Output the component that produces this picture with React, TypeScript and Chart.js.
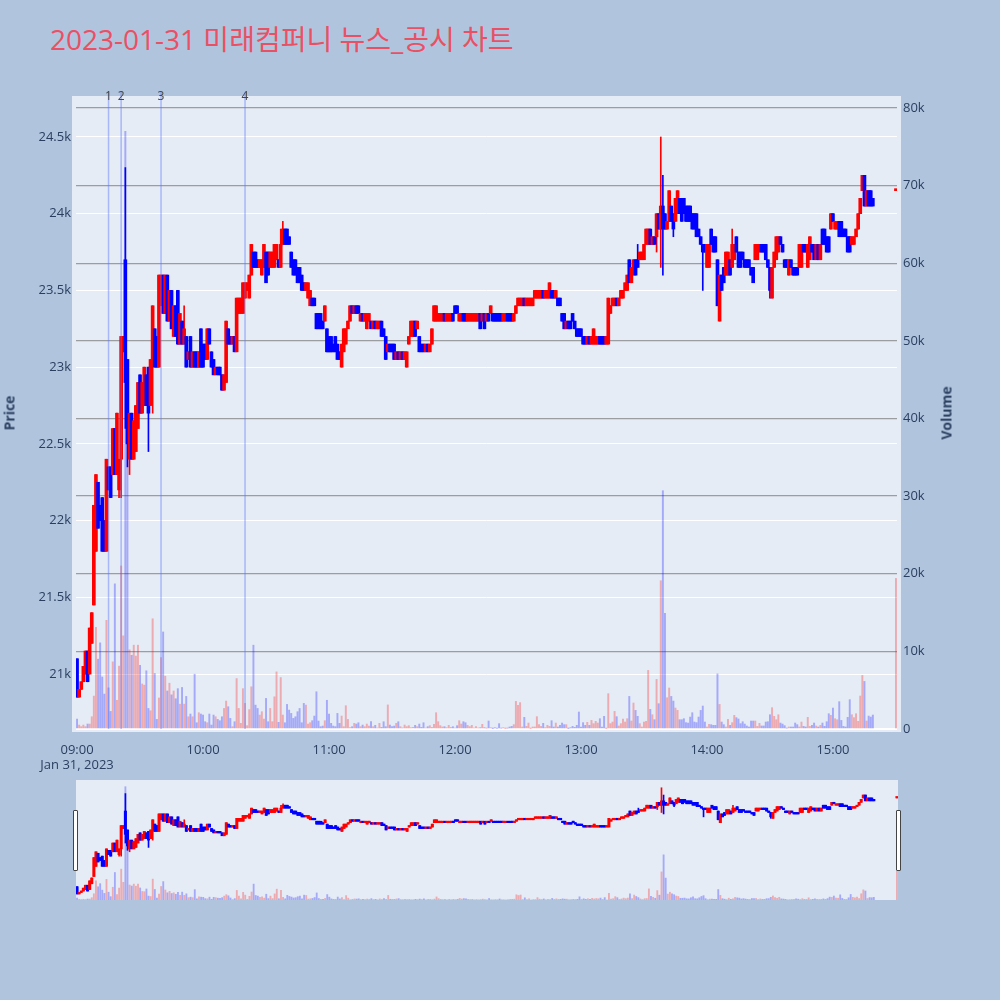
import React, { useEffect, useRef } from "react";
import { Chart, registerables, ChartConfiguration, Plugin } from "chart.js";

Chart.register(...registerables);

const titleText = "2023-01-31 미래컴퍼니 뉴스_공시 차트";
const sessionDate = "Jan 31, 2023";
const sessionStartHour = 9;

// tick positions
const priceTicks = [21000, 21500, 22000, 22500, 23000, 23500, 24000, 24500];
const volumeTicks = [0, 10000, 20000, 30000, 40000, 50000, 60000, 70000, 80000];
const hourTicks = [0, 60, 120, 180, 240, 300, 360]; // minutes after 09:00

// one candle per minute from 09:00 (index = minutes after the open)
const opens = [
  21100, 20850, 20900, 20950, 21000, 21150, 21000, 21200, 21450, 21800, // 09:00
  22250, 22100, 22150, 22000, 21800, 22350, 22350, 22300, 22600, 22300,
  22200, 22400, 23100, 23700, 23050, 22400, 22700, 22400, 22450, 22600,
  22950, 22700, 22750, 22950, 23000, 22750, 23050, 23250, 23200, 23000,
  23400, 23600, 23350, 23600, 23300, 23500, 23200, 23400, 23500, 23150,
  23300, 23150, 23200, 23050, 23200, 23000, 23100, 23100, 23000, 23250,
  23150, 23150, 23050, 23250, 23100, 23050, 22950, 23000, 23000, 22950, // 10:00
  22850, 22900, 23250, 23200, 23150, 23200, 23100, 23350, 23350, 23350,
  23450, 23500, 23450, 23600, 23750, 23750, 23700, 23650, 23600, 23650,
  23750, 23750, 23650, 23650, 23650, 23700, 23700, 23650, 23800, 23900,
  23900, 23850, 23750, 23700, 23700, 23650, 23650, 23600, 23550, 23500,
  23450, 23400, 23450, 23450, 23350, 23350, 23350, 23300, 23300, 23250,
  23200, 23200, 23150, 23200, 23150, 23100, 23000, 23100, 23150, 23250, // 11:00
  23300, 23400, 23350, 23400, 23400, 23300, 23350, 23300, 23250, 23300,
  23300, 23250, 23300, 23250, 23250, 23300, 23250, 23200, 23100, 23150,
  23150, 23150, 23050, 23100, 23050, 23100, 23050, 23000, 23150, 23200,
  23200, 23300, 23250, 23200, 23150, 23150, 23100, 23150, 23100, 23150,
  23300, 23300, 23300, 23300, 23300, 23350, 23300, 23300, 23300, 23350,
  23400, 23400, 23300, 23300, 23350, 23350, 23300, 23300, 23300, 23300, // 12:00
  23300, 23300, 23350, 23300, 23350, 23300, 23350, 23350, 23350, 23350,
  23350, 23350, 23350, 23300, 23300, 23350, 23350, 23350, 23300, 23350,
  23400, 23400, 23400, 23450, 23400, 23400, 23400, 23400, 23450, 23450,
  23450, 23450, 23500, 23450, 23450, 23450, 23500, 23500, 23450, 23450,
  23450, 23350, 23350, 23250, 23300, 23300, 23350, 23300, 23250, 23250,
  23250, 23200, 23200, 23150, 23200, 23150, 23150, 23150, 23150, 23200, // 13:00
  23200, 23200, 23150, 23150, 23350, 23400, 23400, 23450, 23400, 23450,
  23450, 23500, 23500, 23700, 23550, 23600, 23700, 23700, 23700, 23700,
  23700, 23800, 23800, 23900, 23800, 23850, 23850, 24000, 23900, 24050,
  24000, 23900, 23950, 24050, 24000, 23950, 24000, 24100, 24100, 24100,
  24050, 24050, 24050, 24000, 24000, 24000, 23900, 23850, 23800, 23800,
  23650, 23650, 23900, 23850, 23850, 23700, 23300, 23600, 23650, 23600, // 14:00
  23600, 23700, 23650, 23700, 23850, 23750, 23750, 23750, 23700, 23700,
  23700, 23650, 23650, 23700, 23700, 23750, 23800, 23800, 23800, 23700,
  23650, 23450, 23650, 23700, 23750, 23850, 23800, 23700, 23700, 23600,
  23700, 23650, 23650, 23650, 23650, 23650, 23800, 23800, 23650, 23700,
  23800, 23800, 23700, 23800, 23700, 23900, 23900, 23850, 23850, 23900,
  24000, 23900, 23900, 23950, 23950, 23900, 23900, 23850, 23850, 23800, // 15:00
  23800, 23850, 23900, 24000, 24150, 24250, 24050, 24150, 24150, 24100,
];

const closes = [
  20850, 20900, 20950, 21050, 21150, 20950, 21300, 21400, 22100, 22300, // 09:00
  21950, 22000, 21800, 21800, 22400, 22200, 22150, 22600, 22300, 22700,
  22400, 23200, 23200, 22900, 22500, 22700, 22400, 22650, 22750, 22900,
  22700, 22900, 23000, 22750, 22700, 23050, 23400, 23000, 23000, 23600,
  23600, 23350, 23600, 23300, 23500, 23250, 23400, 23200, 23150, 23350,
  23150, 23250, 23000, 23100, 23000, 23100, 23000, 23000, 23100, 23000,
  23000, 23050, 23250, 23150, 23000, 22950, 23000, 22950, 22950, 22850, // 10:00
  22950, 23300, 23150, 23150, 23200, 23100, 23450, 23450, 23450, 23550,
  23550, 23550, 23600, 23800, 23650, 23650, 23650, 23700, 23700, 23800,
  23550, 23600, 23750, 23750, 23800, 23800, 23650, 23800, 23900, 23800,
  23800, 23800, 23650, 23600, 23600, 23550, 23550, 23500, 23500, 23550,
  23550, 23500, 23400, 23400, 23250, 23250, 23250, 23250, 23400, 23100,
  23100, 23100, 23100, 23100, 23050, 23050, 23150, 23250, 23250, 23300, // 11:00
  23400, 23350, 23400, 23350, 23350, 23350, 23300, 23350, 23350, 23350,
  23250, 23300, 23250, 23300, 23300, 23200, 23200, 23050, 23150, 23100,
  23100, 23050, 23100, 23050, 23100, 23050, 23100, 23100, 23200, 23300,
  23300, 23200, 23300, 23100, 23100, 23100, 23150, 23100, 23150, 23250,
  23400, 23400, 23350, 23350, 23350, 23300, 23350, 23350, 23350, 23300,
  23350, 23350, 23350, 23350, 23300, 23300, 23350, 23350, 23350, 23350, // 12:00
  23350, 23350, 23250, 23350, 23250, 23350, 23300, 23400, 23300, 23300,
  23300, 23300, 23300, 23350, 23350, 23300, 23300, 23300, 23350, 23400,
  23450, 23450, 23450, 23400, 23450, 23450, 23450, 23450, 23500, 23500,
  23500, 23500, 23450, 23500, 23500, 23550, 23450, 23450, 23500, 23400,
  23400, 23300, 23250, 23300, 23250, 23250, 23300, 23250, 23200, 23200,
  23200, 23150, 23150, 23200, 23150, 23200, 23250, 23200, 23200, 23150, // 13:00
  23150, 23150, 23200, 23450, 23400, 23450, 23450, 23400, 23450, 23500,
  23500, 23550, 23600, 23550, 23650, 23700, 23600, 23650, 23750, 23750,
  23800, 23900, 23900, 23800, 23850, 23800, 24000, 23900, 24050, 23900,
  23900, 23950, 24150, 23950, 23900, 24100, 24150, 24000, 23950, 24000,
  23950, 23950, 23950, 23900, 23900, 23850, 23850, 23800, 23750, 23750,
  23800, 23800, 23800, 23750, 23750, 23400, 23600, 23500, 23550, 23750, // 14:00
  23750, 23600, 23800, 23800, 23750, 23650, 23650, 23700, 23650, 23650,
  23650, 23600, 23550, 23800, 23800, 23800, 23750, 23750, 23700, 23650,
  23500, 23650, 23750, 23850, 23850, 23800, 23750, 23650, 23650, 23700,
  23650, 23600, 23600, 23600, 23800, 23800, 23750, 23750, 23800, 23850,
  23750, 23700, 23800, 23700, 23800, 23800, 23800, 23750, 23750, 24000,
  23950, 23950, 23950, 23850, 23850, 23850, 23850, 23750, 23750, 23850, // 15:00
  23850, 23900, 24000, 24100, 24250, 24050, 24150, 24050, 24050, 24050,
];

const volumes = [
  1280, 510, 300, 510, 300, 640, 640, 1580, 4240, 13100, // 09:00
  9000, 11100, 6700, 4500, 14000, 5300, 2270, 8650, 18700, 3700,
  8100, 21000, 12000, 77000, 40000, 10200, 9500, 10800, 9400, 10800,
  8200, 5800, 5650, 7500, 2650, 2350, 14200, 7150, 1240, 4000,
  9200, 12500, 6800, 4900, 5900, 4400, 4900, 3900, 5200, 3200,
  5350, 3200, 4200, 1580, 1930, 1580, 7060, 810, 2100, 1930,
  1800, 940, 810, 1930, 510, 1800, 1580, 1240, 1070, 1580, // 10:00
  2650, 3600, 2870, 1370, 300, 940, 6500, 2650, 730, 5200,
  3300, 430, 2500, 5440, 10800, 3080, 2650, 1800, 2230, 1280,
  3940, 940, 2650, 940, 4150, 7360, 860, 6630, 1800, 810,
  3170, 2440, 2010, 1370, 1580, 2230, 2650, 810, 3300, 3080,
  640, 810, 1070, 1670, 4800, 1030, 300, 385, 1070, 3700,
  1930, 730, 385, 300, 2010, 730, 1670, 300, 3000, 1240, // 11:00
  170, 300, 730, 640, 810, 300, 510, 300, 640, 380,
  940, 300, 470, 130, 730, 210, 940, 300, 3100, 510,
  300, 380, 730, 940, 300, 130, 510, 300, 430, 170,
  210, 470, 300, 640, 210, 810, 130, 300, 430, 210,
  600, 2100, 940, 430, 260, 300, 170, 470, 210, 300,
  130, 430, 1070, 640, 940, 810, 470, 300, 470, 130, // 12:00
  300, 130, 170, 600, 170, 90, 1030, 170, 40, 170,
  90, 690, 90, 170, 40, 90, 260, 340, 560, 3560,
  3050, 3400, 260, 1500, 340, 770, 40, 260, 260, 1590,
  560, 340, 730, 170, 470, 340, 1070, 260, 770, 260,
  470, 770, 560, 560, 40, 170, 340, 210, 470, 2190,
  260, 820, 470, 860, 470, 1110, 690, 990, 770, 1330, // 13:00
  260, 1630, 40, 4550, 690, 900, 2270, 1590, 390, 690,
  1290, 900, 1330, 4200, 1030, 3350, 2400, 1630, 690, 260,
  900, 990, 7550, 2530, 1840, 1200, 6390, 3260, 19100, 30700,
  14900, 4030, 5280, 4200, 3600, 2700, 2400, 1200, 1200, 1330,
  820, 770, 1540, 2100, 900, 820, 1540, 2400, 2960, 900,
  260, 600, 560, 470, 470, 7100, 3170, 900, 560, 260, // 14:00
  1240, 470, 820, 1760, 1460, 1290, 690, 940, 640, 390,
  260, 1030, 1030, 1030, 340, 730, 390, 390, 900, 940,
  1840, 2750, 1630, 1200, 1840, 770, 640, 430, 90, 260,
  260, 260, 770, 560, 260, 900, 340, 260, 1500, 340,
  470, 770, 390, 260, 470, 770, 340, 940, 1970, 1760,
  2700, 1330, 1200, 3520, 1110, 340, 260, 1500, 3780, 1840, // 15:00
  1460, 1970, 990, 4250, 6900, 6130, 1030, 1670, 1540, 1800,
];

// [minute, low, high] for candles whose wick reaches past the body
const wicks: [number, number, number][] = [
  [20, 22150, 22400], [21, 22150, 23200], [23, 22600, 24300], [24, 22350, 23050],
  [25, 22300, 22700], [34, 22450, 23000], [36, 22700, 23400], [51, 23150, 23400],
  [97, 23650, 23900], [98, 23800, 23950], [267, 23650, 23800], [276, 23750, 24000],
  [278, 23650, 24500], [279, 23600, 24250], [284, 23850, 24000], [298, 23500, 23800],
  [312, 23650, 23900], [330, 23450, 23650], [374, 24150, 24250],
];

// closing auction print at 15:30
const closeMinute = 390;
const closeOpen = 24150;
const closeClose = 24150;
const closeVolume = 19400;

// news / disclosure markers
const newsMinutes = [15, 21, 40, 80];
const newsLabels = ["1", "2", "3", "4"];

const allMinutes = [...opens.map((_, i) => i), closeMinute];
const allOpens = [...opens, closeOpen];
const allCloses = [...closes, closeClose];
const allVolumes = [...volumes, closeVolume];
const wickMap = new Map(wicks.map((w) => [w[0], w]));
const lows = allMinutes.map((m, i) =>
  Math.min(allOpens[i], allCloses[i], wickMap.get(m)?.[1] ?? Infinity)
);
const highs = allMinutes.map((m, i) =>
  Math.max(allOpens[i], allCloses[i], wickMap.get(m)?.[2] ?? -Infinity)
);
const isUp = allOpens.map((o, i) => allCloses[i] >= o);

const UP = "#ff0000";
const DOWN = "#0000ff";
const PRICE_MIN = 20642;
const PRICE_MAX = 24767;
const VOL_MAX = 81546;
const X_MIN = -0.5;
const X_MAX = 390.5;
const TICK_COLOR = "#2a3f5f";
const FONT = '"Open Sans", "Noto Sans CJK KR", sans-serif';

const buildDatasets = (bodyW: number, wickW: number, volW: number, minLen: number) => {
  const candleColors = isUp.map((u) => (u ? UP : DOWN));
  return [
    {
      type: "bar" as const,
      label: "Volume",
      yAxisID: "y2",
      data: allMinutes.map((m, i) => ({ x: m, y: allVolumes[i] })),
      backgroundColor: isUp.map((u) => (u ? "rgba(255,0,0,0.28)" : "rgba(0,0,255,0.28)")),
      barThickness: volW,
      grouped: false,
      order: 3,
    },
    {
      type: "bar" as const,
      label: "wick",
      yAxisID: "y",
      data: allMinutes.map((m, i) => ({ x: m, y: [lows[i], highs[i]] })),
      backgroundColor: candleColors,
      barThickness: wickW,
      grouped: false,
      order: 2,
    },
    {
      type: "bar" as const,
      label: "body",
      yAxisID: "y",
      data: allMinutes.map((m, i) => ({ x: m, y: [allOpens[i], allCloses[i]] })),
      backgroundColor: candleColors,
      barThickness: bodyW,
      minBarLength: minLen,
      grouped: false,
      order: 1,
    },
  ];
};

const bgPlugin = (padX: number, padBottom: number): Plugin => ({
  id: "plotBg",
  beforeDraw(chart) {
    const { ctx, chartArea } = chart;
    ctx.save();
    ctx.fillStyle = "#e5ecf6";
    ctx.fillRect(
      chartArea.left - padX,
      chartArea.top,
      chartArea.right - chartArea.left + padX * 2,
      chartArea.bottom - chartArea.top + padBottom
    );
    ctx.restore();
  },
});

const newsPlugin: Plugin = {
  id: "newsLines",
  afterDatasetsDraw(chart) {
    const { ctx, chartArea, scales } = chart;
    ctx.save();
    newsMinutes.forEach((m, i) => {
      const x = scales.x.getPixelForValue(m);
      ctx.strokeStyle = "rgba(90,120,250,0.45)";
      ctx.lineWidth = 1.5;
      ctx.beginPath();
      ctx.moveTo(x, chartArea.top - 4);
      ctx.lineTo(x, chartArea.bottom);
      ctx.stroke();
      ctx.fillStyle = "#444444";
      ctx.font = `12px ${FONT}`;
      ctx.textAlign = "center";
      ctx.textBaseline = "middle";
      ctx.fillText(newsLabels[i], x, chartArea.top + 1);
    });
    ctx.restore();
  },
};

const timeLabel = (v: number) => {
  const h = sessionStartHour + Math.floor(v / 60);
  const mm = v % 60;
  return `${String(h).padStart(2, "0")}:${String(mm).padStart(2, "0")}`;
};

const kLabel = (v: number) => (v === 0 ? "0" : `${v / 1000}k`);

const App = () => {
  const mainRef = useRef<HTMLCanvasElement | null>(null);
  const sliderRef = useRef<HTMLCanvasElement | null>(null);

  useEffect(() => {
    if (!mainRef.current || !sliderRef.current) return;

    const mainConfig = {
      type: "bar",
      data: { datasets: buildDatasets(3, 1, 1.3, 2) },
      options: {
        responsive: false,
        animation: false,
        layout: { padding: { top: 96, left: 0, right: 0, bottom: 0 } },
        plugins: { legend: { display: false }, tooltip: { enabled: false } },
        scales: {
          x: {
            type: "linear",
            min: X_MIN,
            max: X_MAX,
            offset: false,
            grid: { display: false },
            border: { display: false },
            afterBuildTicks: (s: any) => {
              s.ticks = hourTicks.map((value) => ({ value }));
            },
            ticks: {
              autoSkip: false,
              maxRotation: 0,
              padding: 5,
              color: TICK_COLOR,
              font: { family: FONT, size: 13 },
              callback: (v: string | number) => {
                const n = Number(v);
                return n === 0 ? [timeLabel(n), sessionDate] : timeLabel(n);
              },
            },
            afterFit: (s: any) => {
              s.height = 46;
            },
          },
          y: {
            position: "left",
            min: PRICE_MIN,
            max: PRICE_MAX,
            grid: { color: "#ffffff", lineWidth: 1, drawTicks: false },
            border: { display: false },
            afterBuildTicks: (s: any) => {
              s.ticks = priceTicks.map((value) => ({ value }));
            },
            ticks: {
              autoSkip: false,
              padding: 5,
              color: TICK_COLOR,
              font: { family: FONT, size: 13 },
              callback: (v: string | number) => kLabel(Number(v)),
            },
            afterFit: (s: any) => {
              s.width = 76;
            },
          },
          y2: {
            position: "right",
            min: 0,
            max: VOL_MAX,
            grid: {
              color: (c: any) => (c.tick.value === 0 ? "#ffffff" : "rgba(105,105,105,0.6)"),
              lineWidth: (c: any) => (c.tick.value === 0 ? 2 : 1.3),
              drawTicks: false,
            },
            border: { display: false },
            afterBuildTicks: (s: any) => {
              s.ticks = volumeTicks.map((value) => ({ value }));
            },
            ticks: {
              autoSkip: false,
              padding: 6,
              color: TICK_COLOR,
              font: { family: FONT, size: 13 },
              callback: (v: string | number) => kLabel(Number(v)),
            },
            afterFit: (s: any) => {
              s.width = 103;
            },
          },
        },
      },
      plugins: [bgPlugin(4, 3), newsPlugin],
    } as unknown as ChartConfiguration;

    const sliderConfig = {
      type: "bar",
      data: { datasets: buildDatasets(2.4, 1, 1.2, 1.5) },
      options: {
        responsive: false,
        animation: false,
        layout: { padding: 0 },
        plugins: { legend: { display: false }, tooltip: { enabled: false } },
        scales: {
          x: { type: "linear", min: X_MIN, max: X_MAX, offset: false, display: false },
          y: { min: PRICE_MIN, max: PRICE_MAX, display: false },
          y2: { min: 0, max: VOL_MAX, display: false },
        },
      },
      plugins: [bgPlugin(0, 0)],
    } as unknown as ChartConfiguration;

    const main = new Chart(mainRef.current, mainConfig);
    const slider = new Chart(sliderRef.current, sliderConfig);

    return () => {
      main.destroy();
      slider.destroy();
    };
  }, []);

  const handle: React.CSSProperties = {
    position: "absolute",
    top: 810,
    width: 3,
    height: 59,
    background: "#ffffff",
    border: "1px solid #444444",
    borderRadius: 1,
  };

  const axisTitle: React.CSSProperties = {
    position: "absolute",
    top: 413,
    transform: "translate(-50%, -50%) rotate(-90deg)",
    fontSize: 14,
    fontWeight: 700,
    color: TICK_COLOR,
    whiteSpace: "nowrap",
  };

  return (
    <div
      style={{
        position: "absolute",
        left: 0,
        top: 0,
        width: 1000,
        height: 1000,
        background: "#b0c4de",
        overflow: "hidden",
        fontFamily: FONT,
      }}
    >
      <div
        style={{
          position: "absolute",
          left: 50,
          top: 23,
          fontSize: 28,
          lineHeight: "32px",
          color: "#ea5064",
          whiteSpace: "nowrap",
        }}
      >
        {titleText}
      </div>
      <canvas
        ref={mainRef}
        width={1000}
        height={775}
        style={{ position: "absolute", left: 0, top: 0, width: 1000, height: 775 }}
      />
      <div style={{ ...axisTitle, left: 9 }}>Price</div>
      <div style={{ ...axisTitle, left: 946 }}>Volume</div>
      <canvas
        ref={sliderRef}
        width={822}
        height={120}
        style={{ position: "absolute", left: 76, top: 780, width: 822, height: 120 }}
      />
      <div style={{ ...handle, left: 73 }} />
      <div style={{ ...handle, left: 896 }} />
    </div>
  );
};

export default App;
